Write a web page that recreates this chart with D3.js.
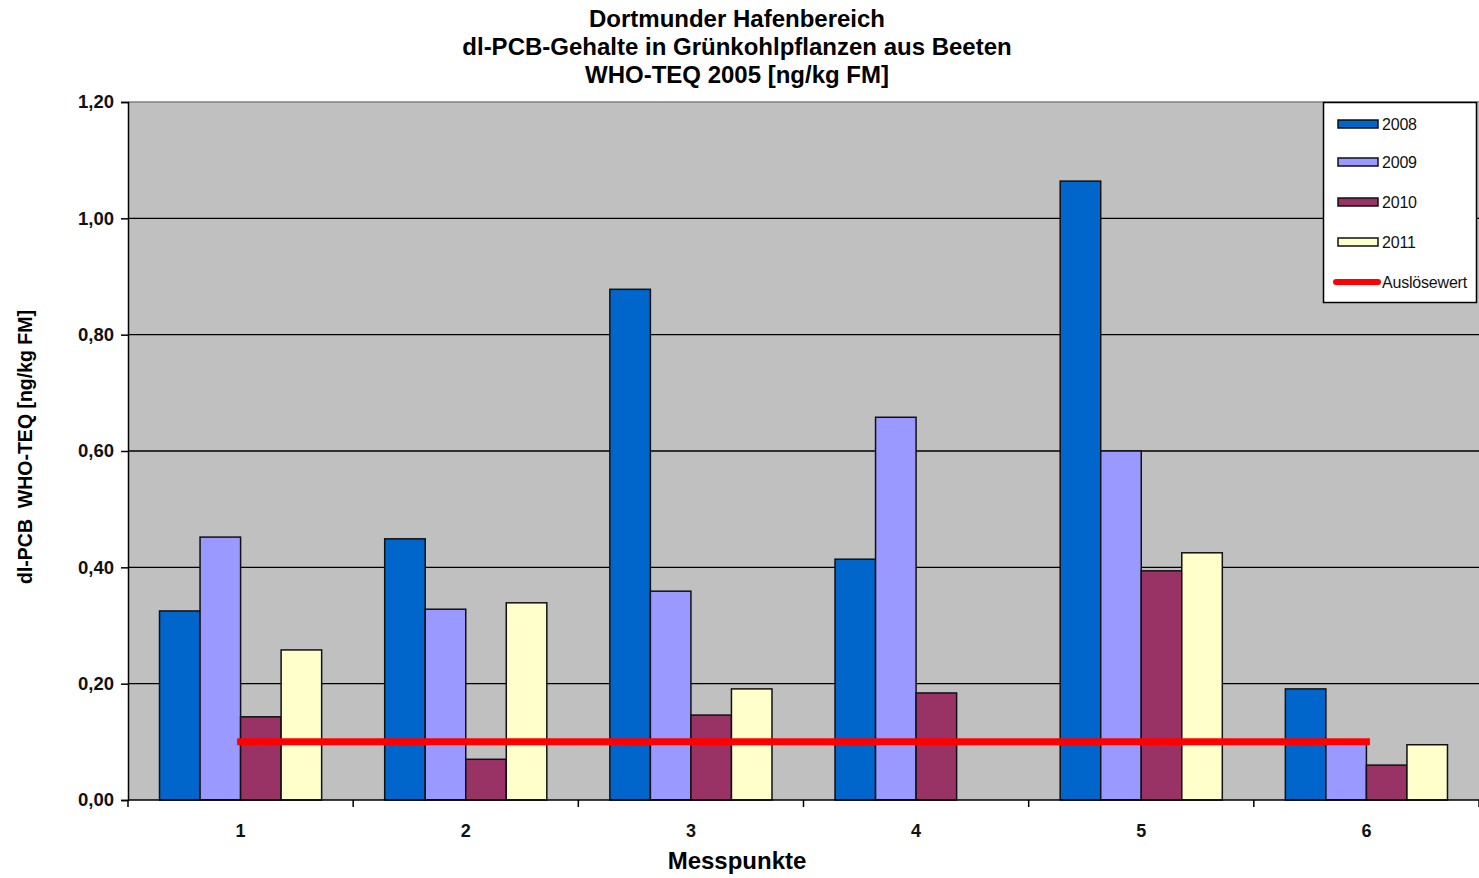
<!DOCTYPE html>
<html><head><meta charset="utf-8">
<script src="https://cdn.jsdelivr.net/npm/d3@7"></script>
<style>body{margin:0;background:#fff}svg{display:block}text{font-family:"Liberation Sans",Arial,sans-serif}</style>
</head><body>
<svg id="c" width="1479" height="878"></svg>
<script>
const categories = ["1","2","3","4","5","6"];
const years = ["2008","2009","2010","2011"];
const v2008 = [0.325, 0.449, 0.878, 0.414, 1.064, 0.191];
const v2009 = [0.452, 0.328, 0.359, 0.658, 0.600, 0.100];
const v2010 = [0.143, 0.070, 0.146, 0.184, 0.394, 0.060];
const v2011 = [0.258, 0.339, 0.191, null, 0.425, 0.095];
const ausloesewert = [0.10, 0.10, 0.10, 0.10, 0.10, 0.10];
const yTicks = [0, 0.2, 0.4, 0.6, 0.8, 1.0, 1.2];
const colors = ["#0066cc", "#9999ff", "#993366", "#ffffcc"];
const series = [v2008, v2009, v2010, v2011];

const svg = d3.select("#c");
const L = 128, R = 1479, T = 102, B = 800;
const x = d3.scaleBand().domain(categories).range([L, R]);
const bw = x.bandwidth();
const off = bw * 0.14;
const x1 = d3.scaleBand().domain(years).range([off, bw - off]);
const y = d3.scaleLinear().domain([0, 1.2]).range([B, T]);

// plot bg
svg.append("rect").attr("x", L).attr("y", T).attr("width", R - L).attr("height", B - T).attr("fill", "#c0c0c0");
// grid
svg.append("g").selectAll("line").data(yTicks.slice(1)).join("line")
  .attr("x1", L).attr("x2", R).attr("y1", d => y(d)).attr("y2", d => y(d))
  .attr("stroke", d => d === 1.2 ? "#808080" : "#000").attr("stroke-width", 1.3);

// bars
years.forEach((yr, si) => {
  svg.append("g").selectAll("rect").data(series[si].map((v, i) => ({v, c: categories[i]})).filter(d => d.v != null))
    .join("rect")
    .attr("x", d => x(d.c) + x1(yr))
    .attr("width", x1.bandwidth())
    .attr("y", d => y(d.v))
    .attr("height", d => y(0) - y(d.v))
    .attr("fill", colors[si]).attr("stroke", "#111").attr("stroke-width", 1.5);
});

// red line
const line = d3.line().x((d, i) => x(categories[i]) + bw / 2).y(d => y(d));
svg.append("path").attr("d", line(ausloesewert)).attr("fill", "none")
  .attr("stroke", "#ff0000").attr("stroke-width", 7).attr("stroke-linecap", "square");

// axes
const yAxis = d3.axisLeft(y).tickValues(yTicks).tickSize(7).tickPadding(7)
  .tickFormat(d => d3.format(".2f")(d).replace(".", ","));
const gy = svg.append("g").attr("transform", `translate(${L},0)`).call(yAxis);
gy.select(".domain").attr("stroke", "#000").attr("stroke-width", 1.5);
gy.selectAll(".tick line").attr("stroke", "#000").attr("stroke-width", 1.5);
gy.selectAll(".tick text").attr("font-size", 18.5).attr("font-weight", "bold").attr("fill", "#111")
  .attr("font-family", "'Liberation Sans', Arial, sans-serif");

const gx = svg.append("g").attr("transform", `translate(0,${B})`);
gx.append("line").attr("x1", L).attr("x2", R).attr("y1", 0).attr("y2", 0).attr("stroke", "#000").attr("stroke-width", 1.5);
const bounds = categories.map(c => x(c)).concat([R]);
gx.selectAll("line.t").data(bounds).join("line").attr("class", "t")
  .attr("x1", d => d).attr("x2", d => d).attr("y1", 0).attr("y2", 7).attr("stroke", "#000").attr("stroke-width", 1.5);
gx.selectAll("text").data(categories).join("text")
  .attr("x", d => x(d) + bw / 2).attr("y", 37).attr("text-anchor", "middle")
  .attr("font-size", 18).attr("font-weight", "bold").attr("fill", "#111").text(d => d);

// titles
const titles = ["Dortmunder Hafenbereich", "dl-PCB-Gehalte in Grünkohlpflanzen aus Beeten", "WHO-TEQ 2005 [ng/kg FM]"];
svg.append("g").selectAll("text").data(titles).join("text")
  .attr("x", 737).attr("y", (d, i) => 27 + i * 28).attr("text-anchor", "middle")
  .attr("font-size", 24).attr("font-weight", "bold").attr("fill", "#000").text(d => d);

svg.append("text").attr("x", 737).attr("y", 869).attr("text-anchor", "middle")
  .attr("font-size", 24).attr("font-weight", "bold").text("Messpunkte");

svg.append("text").attr("transform", "translate(32,447) rotate(-90)").attr("text-anchor", "middle")
  .attr("font-size", 19.5).attr("font-weight", "bold").style("white-space", "pre")
  .text("dl-PCB  WHO-TEQ [ng/kg FM]");

// legend
const lg = svg.append("g");
lg.append("rect").attr("x", 1323.5).attr("y", 102.5).attr("width", 153).attr("height", 200)
  .attr("fill", "#fff").attr("stroke", "#000").attr("stroke-width", 1.5);
const legItems = years.concat(["Auslösewert"]);
const legY = [124, 162, 202, 242, 282];
legItems.forEach((name, i) => {
  if (i < 4) {
    lg.append("rect").attr("x", 1338).attr("y", legY[i] - 4).attr("width", 40).attr("height", 8)
      .attr("fill", colors[i]).attr("stroke", "#111").attr("stroke-width", 1.5);
  } else {
    lg.append("line").attr("x1", 1336).attr("x2", 1378).attr("y1", legY[i]).attr("y2", legY[i])
      .attr("stroke", "#ff0000").attr("stroke-width", 6).attr("stroke-linecap", "round");
  }
  lg.append("text").attr("x", 1382).attr("y", legY[i] + 5.5).attr("font-size", 16)
    .attr("fill", "#111").attr("letter-spacing", -0.2).text(name);
});
</script>
</body></html>
